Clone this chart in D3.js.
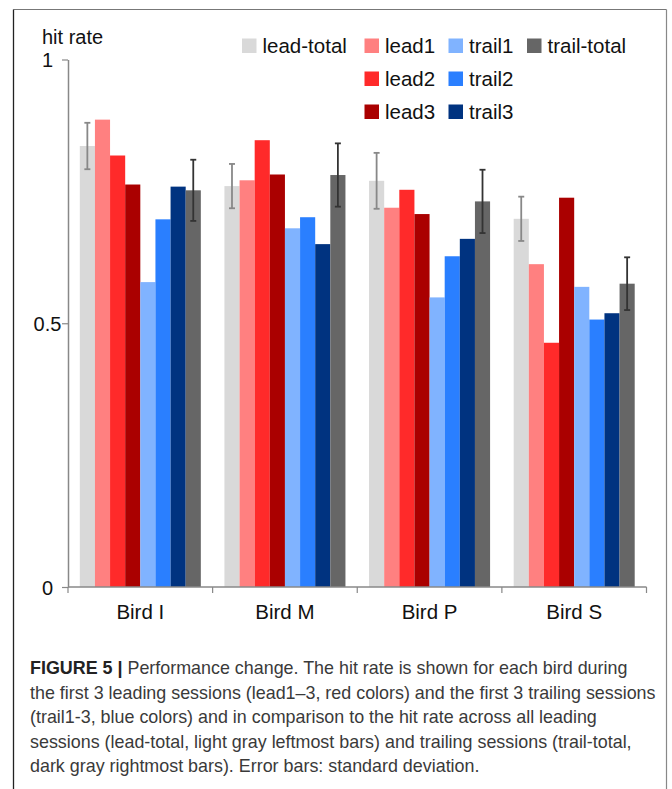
<!DOCTYPE html>
<html>
<head>
<meta charset="utf-8">
<script src="https://cdn.jsdelivr.net/npm/d3@7"></script>
<style>
  html, body { margin: 0; padding: 0; background: #fff; }
  svg { display: block; font-family: "Liberation Sans", Arial, Helvetica, sans-serif; }
</style>
</head>
<body>
<svg id="chart" width="672" height="789"></svg>
<script>
// Hit rate per bird, leading vs trailing sessions

var birds = ["Bird I", "Bird M", "Bird P", "Bird S"];
var series = ["lead-total", "lead1", "lead2", "lead3", "trail1", "trail2", "trail3", "trail-total"];
var seriesColors = ["#d9d9d9", "#ff8080", "#ff2a2a", "#aa0000", "#80b3ff", "#2a7fff", "#003380", "#666666"];

var leadTotal  = [0.836, 0.760, 0.770, 0.698];
var lead1      = [0.886, 0.771, 0.719, 0.612];
var lead2      = [0.818, 0.847, 0.753, 0.463];
var lead3      = [0.763, 0.782, 0.707, 0.738];
var trail1     = [0.578, 0.680, 0.549, 0.569];
var trail2     = [0.697, 0.701, 0.627, 0.507];
var trail3     = [0.759, 0.650, 0.660, 0.519];
var trailTotal = [0.752, 0.781, 0.731, 0.575];

// standard deviation, only for the two totals
var leadTotalSd  = [0.044, 0.042, 0.053, 0.042];
var trailTotalSd = [0.058, 0.060, 0.060, 0.050];

var yTicks = [0, 0.5, 1];
var yTickLabels = ["0", "0.5", "1"];

var captionLines = [
  "Performance change. The hit rate is shown for each bird during",
  "the first 3 leading sessions (lead1\u20133, red colors) and the first 3 trailing sessions",
  "(trail1-3, blue colors) and in comparison to the hit rate across all leading",
  "sessions (lead-total, light gray leftmost bars) and trailing sessions (trail-total,",
  "dark gray rightmost bars). Error bars: standard deviation."
];

var values = [leadTotal, lead1, lead2, lead3, trail1, trail2, trail3, trailTotal];

var svg = d3.select("#chart");

// frame round the figure (bottom runs off the page)
svg.append("line").attr("x1", 13.5).attr("x2", 666.5).attr("y1", 9.5).attr("y2", 9.5)
  .attr("stroke", "#777").attr("stroke-width", 1.2);
svg.append("line").attr("x1", 13.5).attr("x2", 13.5).attr("y1", 9.5).attr("y2", 800)
  .attr("stroke", "#222").attr("stroke-width", 1.3);
svg.append("line").attr("x1", 666.5).attr("x2", 666.5).attr("y1", 9.5).attr("y2", 800)
  .attr("stroke", "#888").attr("stroke-width", 1.2);

var x = d3.scaleBand().domain(birds).range([68, 646.5]).padding(0);
var xs = d3.scaleBand().domain(series).range([0, x.bandwidth()])
  .paddingInner(0).paddingOuter(0.78);
var y = d3.scaleLinear().domain([0, 1]).range([587, 59.5]);

var color = d3.scaleOrdinal().domain(series).range(seriesColors);

///////////////////////////////////////////////////////////////////////////////
// Bars

var rows = [];
birds.forEach(function (b, i) {
  series.forEach(function (s, j) {
    rows.push({ bird: b, key: s, value: values[j][i] });
  });
});

svg.append("g").selectAll("rect")
  .data(rows)
  .join("rect")
  .attr("x", function (d) { return x(d.bird) + xs(d.key); })
  .attr("y", function (d) { return y(d.value); })
  .attr("width", xs.bandwidth())
  .attr("height", function (d) { return y(0) - y(d.value); })
  .attr("fill", function (d) { return color(d.key); });

// Error bars for lead-total and trail-total
var errRows = [];
birds.forEach(function (b, i) {
  errRows.push({ bird: b, key: "lead-total", value: leadTotal[i], sd: leadTotalSd[i], stroke: "#888" });
  errRows.push({ bird: b, key: "trail-total", value: trailTotal[i], sd: trailTotalSd[i], stroke: "#333" });
});

var err = svg.append("g").selectAll("g")
  .data(errRows)
  .join("g")
  .attr("stroke", function (d) { return d.stroke; })
  .attr("stroke-width", 1.8)
  .attr("transform", function (d) {
    return "translate(" + (x(d.bird) + xs(d.key) + xs.bandwidth() / 2) + ",0)";
  });

err.append("line")
  .attr("y1", function (d) { return y(d.value + d.sd); })
  .attr("y2", function (d) { return y(d.value - d.sd); });
err.append("line").attr("x1", -3).attr("x2", 3)
  .attr("y1", function (d) { return y(d.value + d.sd); })
  .attr("y2", function (d) { return y(d.value + d.sd); });
err.append("line").attr("x1", -3).attr("x2", 3)
  .attr("y1", function (d) { return y(d.value - d.sd); })
  .attr("y2", function (d) { return y(d.value - d.sd); });

///////////////////////////////////////////////////////////////////////////////
// Axes

var yAxis = svg.append("g")
  .attr("transform", "translate(68,0)")
  .call(d3.axisLeft(y).tickValues(yTicks).tickSize(6).tickSizeOuter(0)
    .tickFormat(function (d, i) { return yTickLabels[i]; }));
yAxis.select(".domain").attr("stroke", "#888").attr("stroke-width", 1.5);
yAxis.selectAll(".tick line").attr("stroke", "#888").attr("stroke-width", 1.2);
yAxis.selectAll(".tick text")
  .attr("x", -20.5).attr("dy", "0.36em")
  .attr("text-anchor", "middle")
  .attr("fill", "#111")
  .style("font-size", "20px")
  .style("font-family", "'Liberation Sans', Arial, sans-serif");

var xBounds = birds.map(function (b) { return x(b); }).concat([x.range()[1]]);
var xAxis = svg.append("g");
xAxis.append("line")
  .attr("x1", 68).attr("x2", x.range()[1])
  .attr("y1", y(0)).attr("y2", y(0))
  .attr("stroke", "#888").attr("stroke-width", 1.5);
xAxis.selectAll("line.tick")
  .data(xBounds)
  .join("line")
  .attr("class", "tick")
  .attr("x1", function (d) { return d; }).attr("x2", function (d) { return d; })
  .attr("y1", y(0)).attr("y2", y(0) + 6)
  .attr("stroke", "#888").attr("stroke-width", 1.2);
xAxis.selectAll("text")
  .data(birds)
  .join("text")
  .attr("x", function (d) { return x(d) + x.bandwidth() / 2; })
  .attr("y", 619)
  .attr("text-anchor", "middle")
  .attr("fill", "#111")
  .style("font-size", "20.5px")
  .text(function (d) { return d; });

svg.append("text")
  .attr("x", 42).attr("y", 44)
  .attr("fill", "#111")
  .style("font-size", "20px")
  .text("hit rate");

///////////////////////////////////////////////////////////////////////////////
// Legend: four columns, reds and blues stacked

var legendCols = [242, 364.5, 448.5, 527];
var legendPos = {
  "lead-total": [0, 0], "lead1": [1, 0], "lead2": [1, 1], "lead3": [1, 2],
  "trail1": [2, 0], "trail2": [2, 1], "trail3": [2, 2], "trail-total": [3, 0]
};

var legend = svg.append("g").selectAll("g")
  .data(series)
  .join("g")
  .attr("transform", function (d) {
    var p = legendPos[d];
    return "translate(" + legendCols[p[0]] + "," + (38.5 + p[1] * 33) + ")";
  });
legend.append("rect")
  .attr("width", 14.5).attr("height", 14.5)
  .attr("fill", function (d) { return color(d); });
legend.append("text")
  .attr("x", 20.5).attr("y", 14)
  .attr("fill", "#111")
  .style("font-size", "20.5px")
  .text(function (d) { return d; });

///////////////////////////////////////////////////////////////////////////////
// Caption

var caption = svg.append("g").selectAll("text")
  .data(captionLines)
  .join("text")
  .attr("x", 30)
  .attr("y", function (d, i) { return 674 + i * 24.6; })
  .attr("fill", "#3a3a3a")
  .style("font-size", "17.9px");

caption.filter(function (d, i) { return i === 0; })
  .append("tspan")
  .attr("font-weight", "bold")
  .attr("fill", "#222")
  .text("FIGURE 5 | ");
caption.append("tspan").text(function (d) { return d; });
</script>
</body>
</html>
